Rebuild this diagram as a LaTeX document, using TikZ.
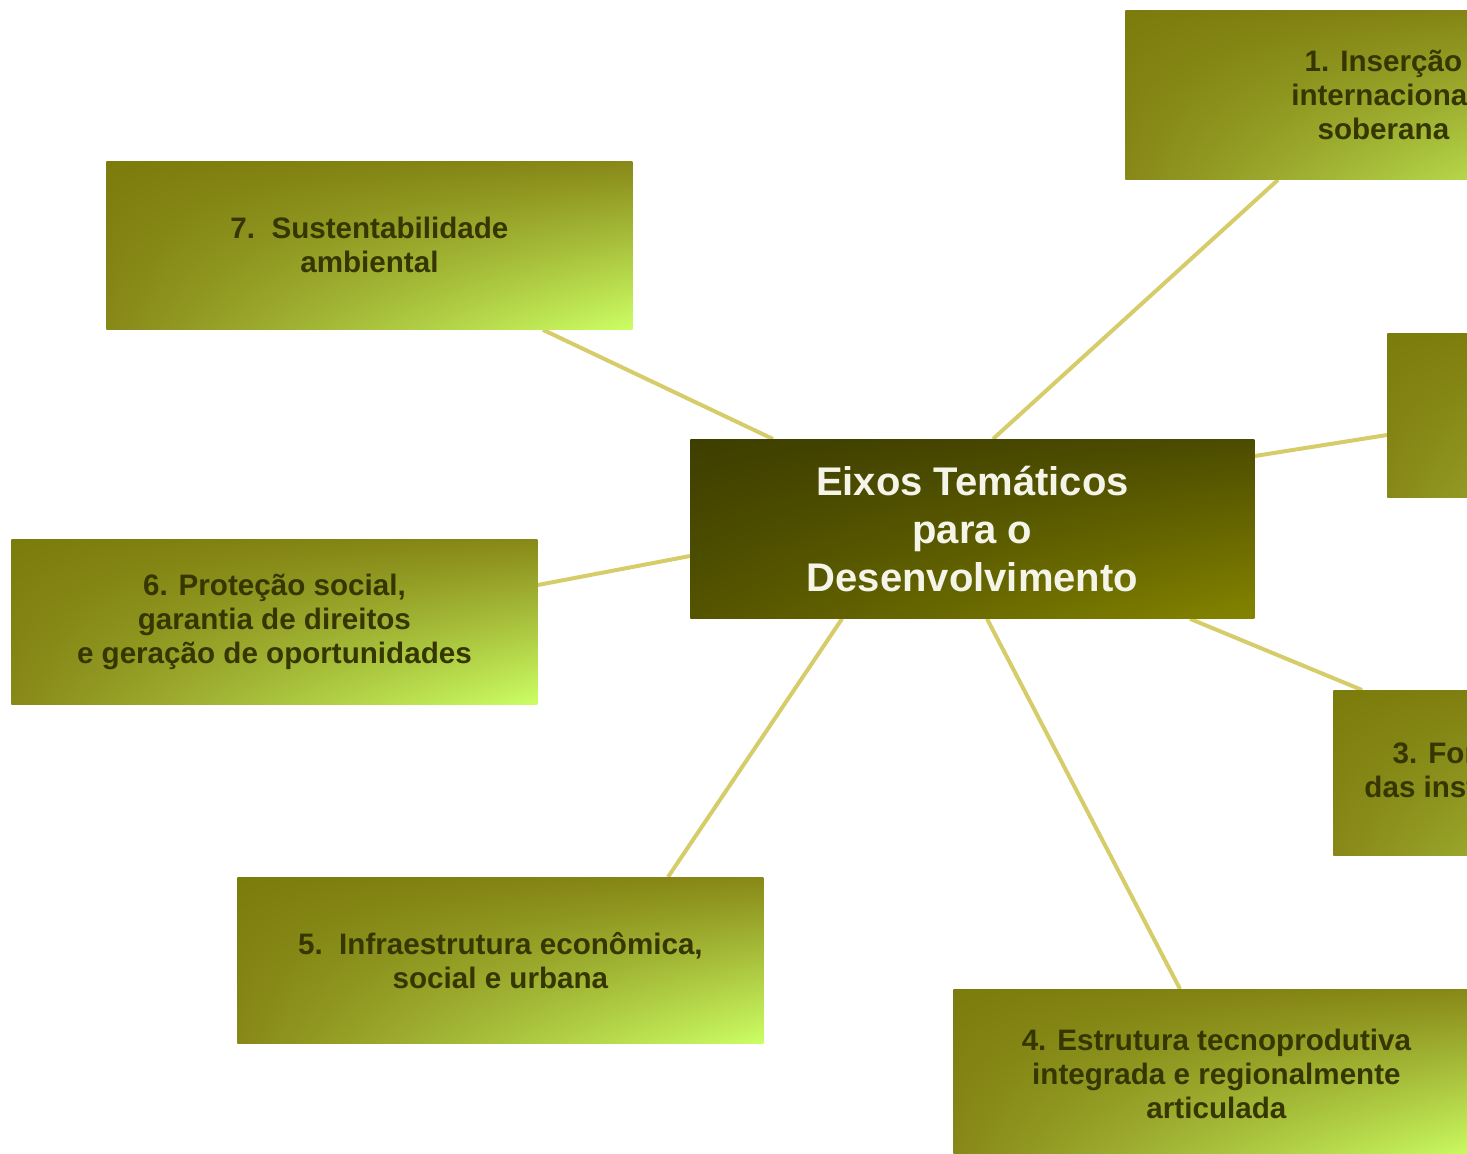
\documentclass[tikz,border=0pt]{standalone}
\usepackage{fontspec}
\setmainfont{Liberation Sans}
\usetikzlibrary{calc,backgrounds,shadings}
\definecolor{olivedk}{HTML}{7C7C0C}
\definecolor{olivemd}{HTML}{888818}
\definecolor{limebr}{HTML}{CCFF64}
\definecolor{cdark}{HTML}{3E3E00}
\definecolor{cmid}{HTML}{545400}
\definecolor{colive}{HTML}{848400}
\definecolor{linkc}{HTML}{D6CC6A}
\definecolor{txtdk}{HTML}{363600}
\definecolor{txtlt}{HTML}{F4F4E8}
\tikzset{
  axisbox/.style={shade, upper left=olivedk, upper right=olivemd, lower left=olivemd, lower right=limebr,
    inner sep=0pt, anchor=north west, align=center, text=txtdk,
    font=\fontsize{14.8}{17}\selectfont\bfseries},
  hubbox/.style={shade, upper left=cdark, upper right=cdark!80!colive, lower left=cmid, lower right=colive,
    inner sep=0pt, anchor=north west, align=center, text=txtlt,
    font=\fontsize{20}{24}\selectfont\bfseries},
  link/.style={draw=linkc, line width=2pt}
}
\begin{document}
\begin{tikzpicture}[x=0.5pt,y=-0.5pt]
\useasboundingbox (0,0) rectangle (1467,1153);
\clip (0,0) rectangle (1467,1153);
% central node
\node[hubbox, minimum width=282pt, minimum height=89.5pt] (hub) at (690,439)
  {Eixos Temáticos\\para o\\Desenvolvimento};
% thematic axes
\node[axisbox, minimum width=258pt, minimum height=84.5pt] (b1) at (1125,10)
  {1. Inserção\\internacional\\soberana};
\node[axisbox, minimum width=263pt, minimum height=82pt] (b2) at (1387,333) {};
\node[axisbox, minimum width=263pt, minimum height=82.5pt] (b3) at (1333,690)
  {3. Fortalecimento do Estado,\\das instituições e da democracia};
\node[axisbox, minimum width=263pt, minimum height=84pt] (b4) at (953,989)
  {4. Estrutura tecnoprodutiva\\integrada e regionalmente\\articulada};
\node[axisbox, minimum width=263pt, minimum height=83pt] (b5) at (237,877)
  {5.~~Infraestrutura econômica,\\social e urbana};
\node[axisbox, minimum width=263pt, minimum height=82.5pt] (b6) at (11,539)
  {6. Proteção social,\\garantia de direitos\\e geração de oportunidades};
\node[axisbox, minimum width=263pt, minimum height=84pt] (b7) at (106,161)
  {7.~~Sustentabilidade\\ambiental};
% attachment points
\coordinate (h1) at ($(hub.north west)+(303,0)$);
\coordinate (h7) at ($(hub.north west)+(83,0)$);
\coordinate (h2) at ($(hub.north east)+(0,17)$);
\coordinate (h3) at ($(hub.south west)+(500,0)$);
\coordinate (h4) at ($(hub.south west)+(297,0)$);
\coordinate (h5) at ($(hub.south west)+(152,0)$);
\coordinate (h6) at ($(hub.north west)+(0,117)$);
\coordinate (e1) at ($(b1.south west)+(153,0)$);
\coordinate (e7) at ($(b7.south west)+(437,0)$);
\coordinate (e2) at ($(b2.north west)+(0,102)$);
\coordinate (e3) at ($(b3.north west)+(29,0)$);
\coordinate (e4) at ($(b4.north west)+(227,0)$);
\coordinate (e5) at ($(b5.north west)+(431,0)$);
\coordinate (e6) at ($(b6.north east)+(0,46)$);
\begin{scope}[on background layer]
\draw[link] (h1) -- (e1);
\draw[link] (h2) -- (e2);
\draw[link] (h3) -- (e3);
\draw[link] (h4) -- (e4);
\draw[link] (h5) -- (e5);
\draw[link] (h6) -- (e6);
\draw[link] (h7) -- (e7);
\end{scope}
\end{tikzpicture}
\end{document}
